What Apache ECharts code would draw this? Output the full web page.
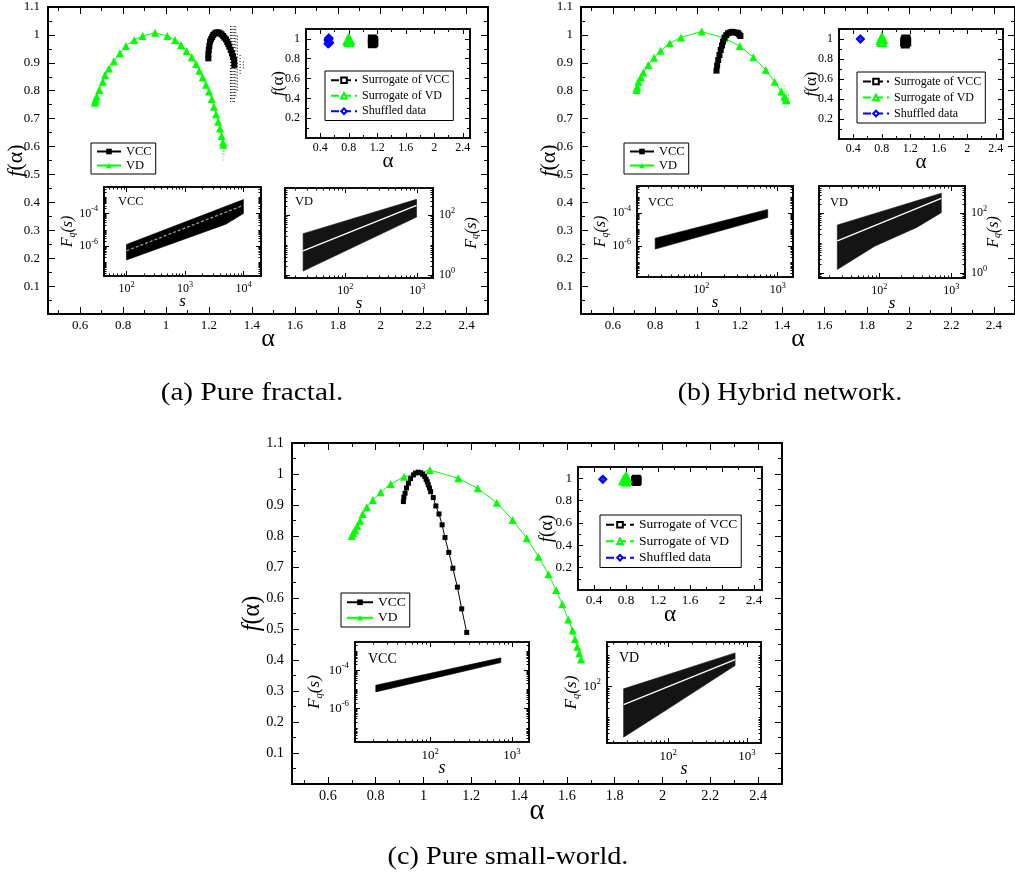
<!DOCTYPE html>
<html><head><meta charset="utf-8">
<script src="https://cdn.jsdelivr.net/npm/echarts@6/dist/echarts.min.js"></script>
<style>html,body{margin:0;padding:0;background:#fff}#c{width:1015px;height:884px}</style>
</head><body><div id="c"></div>
<script>
// ---------------- DATA ----------------
// (a) Pure fractal - main f(alpha)
const aVdAlpha = [0.668,0.670,0.672,0.677,0.689,0.705,0.716,0.734,0.757,0.785,0.813,0.852,0.891,0.949,1.006,1.042,1.070,1.096,1.120,1.140,1.155,1.171,1.186,1.200,1.213,1.223,1.233,1.243,1.251,1.259,1.265,1.267];
const aVdF     = [0.757,0.764,0.770,0.779,0.803,0.832,0.856,0.880,0.906,0.934,0.960,0.982,0.996,1.008,0.996,0.982,0.964,0.942,0.920,0.896,0.872,0.848,0.821,0.797,0.770,0.743,0.716,0.689,0.665,0.638,0.615,0.606];
const aVccAlpha = [1.197,1.197,1.199,1.202,1.205,1.210,1.215,1.220,1.227,1.233,1.239,1.246,1.253,1.259,1.266,1.272,1.279,1.285,1.290,1.295,1.301,1.307,1.312,1.317,1.318];
const aVccF     = [0.916,0.930,0.946,0.961,0.976,0.985,0.993,1.000,1.005,1.008,1.009,1.008,1.005,1.002,0.996,0.990,0.984,0.975,0.967,0.958,0.946,0.934,0.922,0.910,0.892];
const aVccErr = [[1.300,0.76,1.035],[1.306,0.77,1.03],[1.312,0.76,1.03],[1.318,0.76,1.035],[1.325,0.78,1.03],[1.332,0.80,1.00],[1.345,0.86,0.93],[1.360,0.88,0.91]];
const aVdErr  = [[1.260,0.60,0.66],[1.265,0.55,0.62],[1.270,0.57,0.63]];
// (b) Hybrid network - main
const bVdAlpha = [0.712,0.714,0.716,0.722,0.733,0.744,0.768,0.795,0.826,0.869,0.922,1.020,1.129,1.200,1.264,1.323,1.365,1.396,1.411,1.418,1.420];
const bVdF     = [0.803,0.809,0.815,0.832,0.848,0.865,0.892,0.918,0.943,0.970,0.991,1.012,0.988,0.960,0.920,0.874,0.832,0.797,0.779,0.772,0.767];
const bVccAlpha = [1.090,1.093,1.098,1.104,1.110,1.116,1.121,1.128,1.136,1.145,1.155,1.165,1.175,1.185,1.192,1.198,1.203];
const bVccF     = [0.872,0.890,0.910,0.928,0.946,0.962,0.976,0.990,0.999,1.006,1.009,1.011,1.009,1.008,1.006,1.001,0.996];
const bVdErr = [[0.710,0.79,0.84],[0.720,0.80,0.85],[1.400,0.75,0.83],[1.410,0.74,0.82],[1.420,0.74,0.80],[1.430,0.75,0.79]];
// (c) Pure small-world - main
const cVdAlpha = [0.700,0.706,0.714,0.723,0.735,0.746,0.763,0.788,0.821,0.863,0.919,1.027,1.146,1.227,1.307,1.373,1.432,1.481,1.523,1.555,1.581,1.606,1.624,1.634,1.644,1.652,1.659];
const cVdF     = [0.800,0.810,0.819,0.832,0.849,0.871,0.893,0.916,0.941,0.968,0.991,1.013,0.986,0.954,0.907,0.852,0.793,0.733,0.677,0.626,0.580,0.531,0.495,0.468,0.443,0.422,0.402];
const cVccAlpha = [0.916,0.918,0.923,0.929,0.937,0.946,0.958,0.967,0.978,0.988,0.997,1.005,1.011,1.016,1.020,1.025,1.030,1.041,1.052,1.065,1.078,1.090,1.106,1.123,1.142,1.160,1.181];
const cVccF     = [0.911,0.925,0.938,0.955,0.970,0.985,0.997,1.003,1.006,1.004,0.999,0.992,0.983,0.975,0.965,0.955,0.943,0.924,0.897,0.871,0.836,0.795,0.747,0.696,0.635,0.565,0.489];
// surrogate / shuffled insets [alpha, f]
const aSurVcc = [[1.13,0.95],[1.14,0.97],[1.15,0.96],[1.14,0.99],[1.13,1.00],[1.15,0.98]];
const aSurVd  = [[0.79,0.99],[0.80,0.98],[0.81,0.99],[0.80,1.00],[0.80,0.97]];
const aShuf   = [[0.51,0.99],[0.52,0.97],[0.53,0.96],[0.52,1.00],[0.51,0.95],[0.52,1.01]];
const bSurVcc = [[1.12,0.97],[1.13,0.95],[1.14,0.98],[1.15,0.97],[1.13,0.99],[1.14,1.00]];
const bSurVd  = [[0.79,0.99],[0.80,0.97],[0.81,1.00],[0.80,1.01]];
const bShuf   = [[0.50,1.00]];
const cSurVcc = [[0.92,0.98],[0.93,0.99],[0.94,0.98],[0.93,0.97]];
const cSurVd  = [[0.77,0.98],[0.79,0.99],[0.80,0.97],[0.81,1.00],[0.80,1.01]];
const cShuf   = [[0.51,0.99]];
// fluctuation-function fans [s, Fq(s)] : upper edge, lower edge, highlighted line
const aVccUp = [[100,1.26e-6],[10000,7.2e-4]];
const aVccLo = [[100,1.4e-7],[5000,2.2e-5],[10000,1.0e-4]];
const aVccMid = [[100,5.1e-7],[10000,3.2e-4]];
const aVdUp = [[26,24.5],[980,340]];
const aVdLo = [[26,1.38],[980,87]];
const aVdMid = [[26,6.5],[980,214]];
const bVccUp = [[25,2.95e-6],[740,1.7e-4]];
const bVccLo = [[25,6.3e-7],[740,5.5e-5]];
const bVdUp = [[26,40.7],[725,468]];
const bVdLo = [[26,1.35],[87,8.1],[330,33.9],[725,105]];
const bVdMid = [[26,12],[725,316]];
const cVccUp = [[21.6,1.66e-5],[733,4.4e-4]];
const cVccLo = [[21.6,7.4e-6],[733,2.5e-4]];
const cVdUp = [[27,83],[708,1200]];
const cVdLo = [[27,2.3],[96,17.8],[708,468]];
const cVdMid = [[27,25.7],[708,724]];
// tick labels
const mainXTicks = [0.6,0.8,1.0,1.2,1.4,1.6,1.8,2.0,2.2,2.4];
const mainYTicks = [0.1,0.2,0.3,0.4,0.5,0.6,0.7,0.8,0.9,1.0,1.1];
const surXTicks = [0.4,0.8,1.2,1.6,2.0,2.4];
const surYTicks = [0.2,0.4,0.6,0.8,1.0];

// ---------------- BUILD ----------------
const FONT = 'Liberation Serif';
const X = [], Y = [], G = [], S = [];
function grid(l,t,w,h){ G.push({left:l,top:t,width:w,height:h}); return G.length-1; }
function steps(a,b,st){ const r=[]; for(let v=a; v<=b+1e-9; v+=st) r.push(+v.toFixed(4)); return r; }
function ax(arr,gi,pos,min,max,ticks,len,lw,lab){
  const a = {type:'value',gridIndex:gi,position:pos,min:min,max:max,
    axisLine:{show:true,onZero:false,lineStyle:{color:'#000',width:lw}},
    axisTick:{show:ticks.length>0,inside:true,length:len,customValues:ticks,lineStyle:{color:'#000',width:1}},
    axisLabel:{show:false},splitLine:{show:false},splitArea:{show:false},axisPointer:{show:false},silent:true};
  if(lab){
    a.axisLabel = {show:true,customValues:lab.values,formatter:lab.fmt,color:'#000',fontFamily:FONT,fontSize:lab.size,margin:lab.margin,rich:lab.rich,hideOverlap:false};
    if(lab.name){ a.name=lab.name; a.nameLocation='middle'; a.nameGap=lab.gap; a.nameRotate=lab.rot||0; a.nameMoveOverlap=false;
      a.nameTextStyle=Object.assign({color:'#000',fontFamily:FONT},lab.nameStyle||{}); }
  }
  arr.push(a); return arr.length-1;
}
const fmtNum = v => String(+(+v).toFixed(2));
const fmtLog = v => '{b|10}{s|' + Math.round(v) + '}';

function linPanel(rect, xr, yr, o){
  const gi = grid(rect[0],rect[1],rect[2],rect[3]);
  const lw = o.lw;
  const xi = ax(X,gi,'bottom',xr[0],xr[1],o.xMaj,o.maj,lw,{values:o.xLab,fmt:fmtNum,size:o.fs,margin:o.xm,name:o.xName,gap:o.xGap,nameStyle:o.xNameStyle});
  ax(X,gi,'bottom',xr[0],xr[1],o.xMin,o.mnr,lw);
  ax(X,gi,'top',xr[0],xr[1],o.xMaj,o.maj,lw);
  ax(X,gi,'top',xr[0],xr[1],o.xMin,o.mnr,lw);
  const yi = ax(Y,gi,'left',yr[0],yr[1],o.yMaj,o.maj,lw,{values:o.yLab,fmt:fmtNum,size:o.fs,margin:o.ym,name:o.yName,gap:o.yGap,rot:90,nameStyle:o.yNameStyle});
  ax(Y,gi,'left',yr[0],yr[1],o.yMin,o.mnr,lw);
  ax(Y,gi,'right',yr[0],yr[1],o.yMaj,o.maj,lw);
  ax(Y,gi,'right',yr[0],yr[1],o.yMin,o.mnr,lw);
  return {xi, yi};
}
function logMinors(r, keepInt){
  const out=[];
  for(let n=Math.floor(r[0]); n<=Math.ceil(r[1]); n++){
    if(keepInt && keepInt(n)) out.push(n);
    for(let k=2;k<=9;k++){ out.push(n+Math.log10(k)); }
  }
  return out.filter(v=>v>=r[0]&&v<=r[1]);
}
function logPanel(rect, xr, yr, o){
  const gi = grid(rect[0],rect[1],rect[2],rect[3]);
  const xMaj = steps(Math.ceil(xr[0]), Math.floor(xr[1]), 1);
  const xMin = logMinors(xr);
  const yMaj = steps(Math.ceil(yr[0]), Math.floor(yr[1]), 1).filter(v=>Math.abs(v)%2===0);
  const yMin = logMinors(yr, n=>Math.abs(n)%2===1);
  const rich = {b:{fontFamily:FONT,fontSize:o.fs,color:'#000'}, s:{fontFamily:FONT,fontSize:o.fs*0.68,color:'#000',padding:[0,0,o.fs*0.7,0]}};
  const sName = {fontSize:o.nfs+1, fontStyle:'italic'};
  const fRich = {i:{fontFamily:FONT,fontSize:o.nfs,fontStyle:'italic',color:'#000'}, q:{fontFamily:FONT,fontSize:o.nfs*0.62,fontStyle:'italic',color:'#000',padding:[o.nfs*0.55,0,0,0]}};
  const lw = 1.6;
  const xi = ax(X,gi,'bottom',xr[0],xr[1],xMaj,o.maj,lw,{values:xMaj,fmt:fmtLog,size:o.fs,margin:o.xm,rich:rich,name:'s',gap:o.xGap,nameStyle:sName});
  ax(X,gi,'bottom',xr[0],xr[1],xMin,o.mnr,lw);
  ax(X,gi,'top',xr[0],xr[1],xMaj,o.maj,lw);
  ax(X,gi,'top',xr[0],xr[1],xMin,o.mnr,lw);
  const labSide = o.ySide, other = labSide==='left'?'right':'left';
  const yi = ax(Y,gi,labSide,yr[0],yr[1],yMaj,o.maj,lw,{values:yMaj,fmt:fmtLog,size:o.fs,margin:o.ym,rich:rich,name:'{i|F}{q|q}{i|(s)}',gap:o.yGap,rot:90,nameStyle:{rich:fRich}});
  ax(Y,gi,labSide,yr[0],yr[1],yMin,o.mnr,lw);
  ax(Y,gi,other,yr[0],yr[1],yMaj,o.maj,lw);
  ax(Y,gi,other,yr[0],yr[1],yMin,o.mnr,lw);
  return {xi, yi};
}
const fRichMain = fs => ({i:{fontFamily:FONT,fontSize:fs,fontStyle:'italic',color:'#000'},r:{fontFamily:FONT,fontSize:fs,color:'#000'}});
function mainPanel(rect, sc, xGap, yGap){
  return linPanel(rect,[0.45,2.5],[0,1.1],{
    xMaj:mainXTicks, xMin:steps(0.5,2.5,0.2), yMaj:mainYTicks, yMin:steps(0.05,1.05,0.1),
    xLab:mainXTicks, yLab:mainYTicks, maj:7, mnr:4, fs:13*sc, xm:5, ym:8, lw:2,
    xName:'α', xGap:xGap, xNameStyle:{fontSize:26*sc},
    yName:'{i|f}{r|(α)}', yGap:yGap, yNameStyle:{rich:fRichMain(22*sc)}});
}
function surPanel(rect, sc, xGap, yGap){
  return linPanel(rect,[0.2,2.5],[0,1.1],{
    xMaj:surXTicks, xMin:steps(0.2,2.4,0.4), yMaj:surYTicks, yMin:steps(0.1,1.1,0.2),
    xLab:surXTicks, yLab:surYTicks, maj:5, mnr:3, fs:12*sc, xm:4, ym:6, lw:1.6,
    xName:'α', xGap:xGap, xNameStyle:{fontSize:21*sc},
    yName:'{i|f}{r|(α)}', yGap:yGap, yNameStyle:{rich:fRichMain(17*sc)}});
}

const pa = mainPanel([48,7,440,307],1,12,21);
const paS = surPanel([306,29,164,109],1,13,19);
const paC = logPanel([104,187,157,89],[1.616,4.30],[-7.84,-2.37],{fs:12,nfs:16,maj:5,mnr:2.5,xm:5,ym:6,xGap:17,yGap:27,ySide:'left'});
const paD = logPanel([285,188,148,90],[1.163,3.22],[-0.09,2.91],{fs:12,nfs:16,maj:5,mnr:2.5,xm:5,ym:6,xGap:17,yGap:29,ySide:'right'});
const pb = mainPanel([581,7,440,307],1,12,21);
const pbS = surPanel([839,29,164,110],1,13,19);
const pbC = logPanel([637,186,156,91],[1.16,3.20],[-7.91,-2.33],{fs:12,nfs:16,maj:5,mnr:2.5,xm:5,ym:6,xGap:17,yGap:27,ySide:'left'});
const pbD = logPanel([819,186,146,92],[1.16,3.19],[-0.157,2.91],{fs:12,nfs:16,maj:5,mnr:2.5,xm:5,ym:6,xGap:17,yGap:19,ySide:'right'});
const pc = mainPanel([292,443,490,341],1.1,13,27);
const pcS = surPanel([578,467,184,123],1.1,13,21);
const pcC = logPanel([355,642,174,100],[1.08,3.21],[-7.74,-2.53],{fs:13,nfs:17,maj:5,mnr:2.5,xm:5,ym:6,xGap:17,yGap:30,ySide:'left'});
const pcD = logPanel([607,642,154,101],[1.22,3.18],[0.174,3.43],{fs:13,nfs:17,maj:5,mnr:2.5,xm:5,ym:6,xGap:17,yGap:25,ySide:'left'});

const GREEN = '#00ff00', BLUE = '#0000ff';
function lineS(name,p,xs,ys,color,symbol,size,lw){
  return {type:'line',name:name,xAxisIndex:p.xi,yAxisIndex:p.yi,data:xs.map((a,i)=>[a,ys[i]]),
    symbol:symbol,symbolSize:size,showSymbol:true,showAllSymbol:true,itemStyle:{color:color},
    lineStyle:{color:color,width:lw},animation:false,z:3,silent:true};
}
function surS(name,p,data,color,symbol,size){
  return {type:'line',name:name,xAxisIndex:p.xi,yAxisIndex:p.yi,data:data,symbol:'empty'+symbol,symbolSize:size,
    showAllSymbol:true,itemStyle:{color:color,borderColor:color,borderWidth:1.4},
    lineStyle:{color:color,width:1,type:'dashed'},animation:false,z:4,silent:true};
}
function blobS(p,data,color,symbol,size){
  return {type:'scatter',xAxisIndex:p.xi,yAxisIndex:p.yi,data:data,symbol:symbol.toLowerCase(),symbolSize:size,
    itemStyle:{color:color},animation:false,z:5,silent:true};
}
function fanS(p,upper,lower,fill){
  const pts = upper.concat(lower.slice().reverse()).map(d=>[Math.log10(d[0]),Math.log10(d[1])]);
  return {type:'custom',xAxisIndex:p.xi,yAxisIndex:p.yi,data:pts,silent:true,animation:false,z:2,
    renderItem:(params,api)=>{ if(params.dataIndex!==0) return null;
      return {type:'polygon',shape:{points:pts.map(q=>api.coord(q))},style:{fill:fill,stroke:fill,lineWidth:0.6}}; }};
}
function midS(p,data,color,dash){
  return {type:'line',xAxisIndex:p.xi,yAxisIndex:p.yi,data:data.map(d=>[Math.log10(d[0]),Math.log10(d[1])]),
    symbol:'none',lineStyle:{color:color,width:1.3,type:dash?[3,2]:'solid'},animation:false,z:4,silent:true};
}
function errS(p,data,color){
  return {type:'custom',xAxisIndex:p.xi,yAxisIndex:p.yi,data:data,encode:{x:0,y:[1,2]},silent:true,animation:false,z:1,
    renderItem:(params,api)=>{ const a=api.coord([api.value(0),api.value(1)]), b=api.coord([api.value(0),api.value(2)]);
      return {type:'line',shape:{x1:a[0],y1:a[1],x2:b[0],y2:b[1]},style:{stroke:color,lineWidth:1,lineDash:[1,2]}}; }};
}

// main panels
S.push(errS(pa,aVccErr,'#000'), errS(pa,aVdErr,GREEN), errS(pb,bVdErr,GREEN));
S.push(lineS('VD',pa,aVdAlpha,aVdF,GREEN,'triangle',8,1));
S.push(lineS('VCC',pa,aVccAlpha,aVccF,'#000','rect',6,2));
S.push(lineS('VD',pb,bVdAlpha,bVdF,GREEN,'triangle',8,1));
S.push(lineS('VCC',pb,bVccAlpha,bVccF,'#000','rect',6,2));
S.push(lineS('VD',pc,cVdAlpha,cVdF,GREEN,'triangle',8,1));
S.push(lineS('VCC',pc,cVccAlpha,cVccF,'#000','rect',5,1));
// surrogate insets
[[paS,aSurVcc,aSurVd,aShuf],[pbS,bSurVcc,bSurVd,bShuf],[pcS,cSurVcc,cSurVd,cShuf]].forEach(r=>{
  S.push(surS('Surrogate of VCC',r[0],r[1],'#000','Rect',7));
  S.push(surS('Surrogate of VD',r[0],r[2],GREEN,'Triangle',8));
  S.push(surS('Shuffled data',r[0],r[3],BLUE,'Diamond',7));
  S.push(blobS(r[0],r[1],'#000','Rect',7), blobS(r[0],r[2],GREEN,'Triangle',8), blobS(r[0],r[3],BLUE,'Diamond',8));
});
// Fq(s) insets
S.push(fanS(paC,aVccUp,aVccLo,'#000'), midS(paC,aVccMid,'#9a9a9a',true));
S.push(fanS(paD,aVdUp,aVdLo,'#141414'), midS(paD,aVdMid,'#fff',false));
S.push(fanS(pbC,bVccUp,bVccLo,'#000'));
S.push(fanS(pbD,bVdUp,bVdLo,'#141414'), midS(pbD,bVdMid,'#fff',false));
S.push(fanS(pcC,cVccUp,cVccLo,'#000'));
S.push(fanS(pcD,cVdUp,cVdLo,'#141414'), midS(pcD,cVdMid,'#fff',false));

function legendBox(left,top,names,fs,lh,iw){
  return {orient:'vertical',left:left,top:top,data:names,selectedMode:false,borderColor:'#000',borderWidth:1,
    padding:[2,4,2,5],itemGap:1,itemWidth:iw,itemHeight:7,backgroundColor:'#fff',
    textStyle:{fontFamily:FONT,fontSize:fs,lineHeight:lh,color:'#000'}};
}
const mainNames = ['VCC','VD'], surNames = ['Surrogate of VCC','Surrogate of VD','Shuffled data'];
const legends = [
  legendBox(91,143,mainNames,12.5,13,24), legendBox(624,143,mainNames,12.5,13,24), legendBox(341,593,mainNames,13.5,14.5,26),
  legendBox(325,71,surNames,12,14.5,26), legendBox(857,72,surNames,12,15,26), legendBox(600,515,surNames,13.5,15.5,28)
];
function txt(x,y,t,fs){ return {type:'text',x:x,y:y,silent:true,z:50,
  style:{text:t,font:fs+'px "'+FONT+'"',fill:'#000',align:'left',verticalAlign:'middle'}}; }
function cap(x,y,t,sx){ return {type:'text',x:x,y:y,scaleX:sx,silent:true,
  style:{text:t,font:'25px "'+FONT+'"',fill:'#000',align:'center',verticalAlign:'middle'}}; }
const graphics = [
  txt(118,202,'VCC',12.5), txt(295,202,'VD',12.5), txt(648,203,'VCC',12.5), txt(830,203,'VD',12.5),
  txt(368,659,'VCC',14), txt(619,658,'VD',14),
  cap(252,393,'(a) Pure fractal.',1.17), cap(790,393,'(b) Hybrid network.',1.12), cap(508,857,'(c) Pure small-world.',1.13)
];

const chart = echarts.init(document.getElementById('c'), null, {renderer:'canvas'});
chart.setOption({animation:false, backgroundColor:'#fff', grid:G, xAxis:X, yAxis:Y, series:S, legend:legends, graphic:graphics, tooltip:{show:false}});
</script></body></html>
